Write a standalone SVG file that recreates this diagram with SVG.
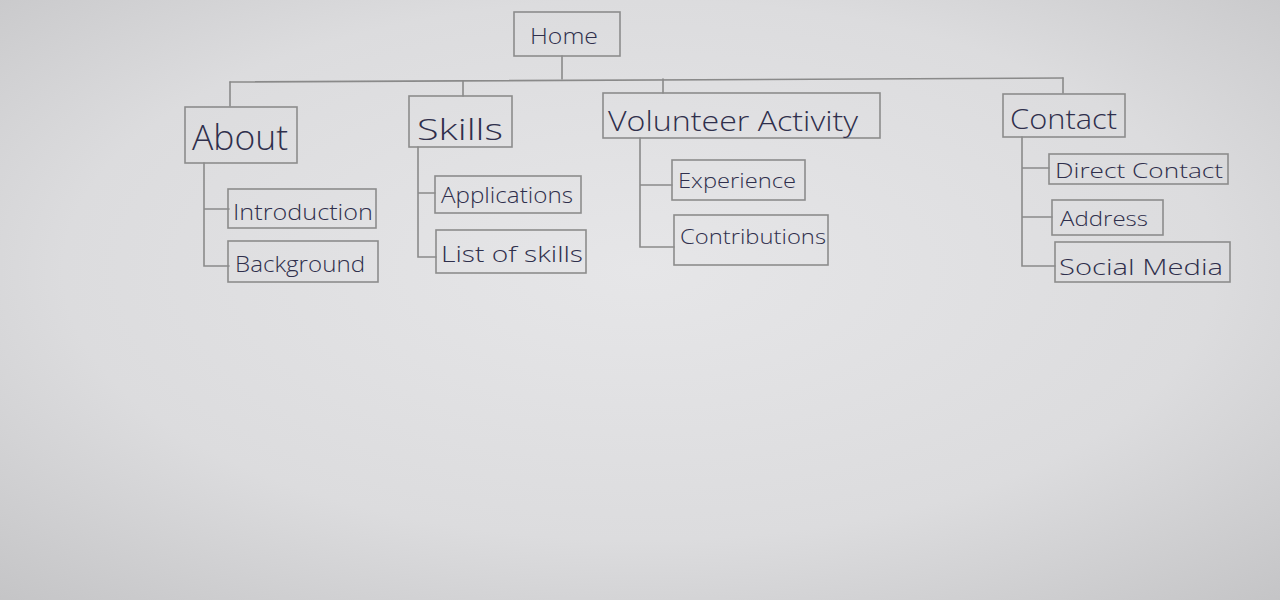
<svg xmlns="http://www.w3.org/2000/svg" width="1280" height="600" viewBox="0 0 1280 600">
  <defs>
    <radialGradient id="paper" cx="0.5" cy="0.45" r="0.75">
      <stop offset="0" stop-color="#e6e6e8"/>
      <stop offset="0.6" stop-color="#dcdcde"/>
      <stop offset="1" stop-color="#c4c4c6"/>
    </radialGradient>
    <style>
      .box { fill: none; stroke: #8c8c8c; stroke-width: 1.6; }
      .wire { fill: none; stroke: #8a8a8a; stroke-width: 1.6; stroke-linecap: round; }
      .lbl { font-family: "Open Sans", "Liberation Sans", sans-serif; font-weight: 300; fill: #2f2f4c; }
    </style>
  </defs>

  <rect width="1280" height="600" fill="url(#paper)"/>

  <!-- connectors -->
  <g id="connectors">
    <path class="wire" d="M562 56 V79"/>
    <path class="wire" d="M230 82 L1063 78"/>
    <path class="wire" d="M230 82 V106"/>
    <path class="wire" d="M463 81 V96"/>
    <path class="wire" d="M663 79 V93"/>
    <path class="wire" d="M1063 78 V93"/>
    <!-- About branch -->
    <path class="wire" d="M204 163 V266 H229 M204 209 H229"/>
    <!-- Skills branch -->
    <path class="wire" d="M418 147 V257 H436 M418 193 H435"/>
    <!-- Volunteer Activity branch -->
    <path class="wire" d="M640 138 V247 H674 M640 185 H672"/>
    <!-- Contact branch -->
    <path class="wire" d="M1022 137 V266 H1055 M1022 168 H1049 M1022 217 H1052"/>
  </g>

  <g id="home">
    <rect class="box" x="514" y="12" width="106" height="44"/>
    <text class="lbl" x="530" y="44" font-size="22" textLength="68" lengthAdjust="spacingAndGlyphs">Home</text>
  </g>

  <g id="about">
    <rect class="box" x="185" y="107" width="112" height="56"/>
    <text class="lbl" x="192" y="150" font-size="34" textLength="96" lengthAdjust="spacingAndGlyphs">About</text>
  </g>
  <g id="introduction">
    <rect class="box" x="228" y="189" width="148" height="39"/>
    <text class="lbl" x="233" y="220" font-size="22" textLength="140" lengthAdjust="spacingAndGlyphs">Introduction</text>
  </g>
  <g id="background">
    <rect class="box" x="228" y="241" width="150" height="41"/>
    <text class="lbl" x="235" y="272" font-size="22" textLength="130" lengthAdjust="spacingAndGlyphs">Background</text>
  </g>

  <g id="skills">
    <rect class="box" x="409" y="96" width="103" height="51"/>
    <text class="lbl" x="417" y="140" font-size="30" textLength="86" lengthAdjust="spacingAndGlyphs">Skills</text>
  </g>
  <g id="applications">
    <rect class="box" x="435" y="176" width="146" height="37"/>
    <text class="lbl" x="441" y="203" font-size="22" textLength="132" lengthAdjust="spacingAndGlyphs">Applications</text>
  </g>
  <g id="list-of-skills">
    <rect class="box" x="436" y="230" width="150" height="43"/>
    <text class="lbl" x="441" y="262" font-size="22" textLength="142" lengthAdjust="spacingAndGlyphs">List of skills</text>
  </g>

  <g id="volunteer-activity">
    <rect class="box" x="603" y="93" width="277" height="45"/>
    <text class="lbl" x="608" y="131" font-size="28" textLength="250" lengthAdjust="spacingAndGlyphs">Volunteer Activity</text>
  </g>
  <g id="experience">
    <rect class="box" x="672" y="160" width="133" height="40"/>
    <text class="lbl" x="678" y="188" font-size="20" textLength="118" lengthAdjust="spacingAndGlyphs">Experience</text>
  </g>
  <g id="contributions">
    <rect class="box" x="674" y="215" width="154" height="50"/>
    <text class="lbl" x="680" y="244" font-size="20" textLength="146" lengthAdjust="spacingAndGlyphs">Contributions</text>
  </g>

  <g id="contact">
    <rect class="box" x="1003" y="94" width="122" height="43"/>
    <text class="lbl" x="1010" y="129" font-size="28" textLength="107" lengthAdjust="spacingAndGlyphs">Contact</text>
  </g>
  <g id="direct-contact">
    <rect class="box" x="1049" y="154" width="179" height="30"/>
    <text class="lbl" x="1055" y="178" font-size="21" textLength="168" lengthAdjust="spacingAndGlyphs">Direct Contact</text>
  </g>
  <g id="address">
    <rect class="box" x="1052" y="200" width="111" height="35"/>
    <text class="lbl" x="1060" y="226" font-size="21" textLength="88" lengthAdjust="spacingAndGlyphs">Address</text>
  </g>
  <g id="social-media">
    <rect class="box" x="1055" y="242" width="175" height="40"/>
    <text class="lbl" x="1059" y="275" font-size="22" textLength="164" lengthAdjust="spacingAndGlyphs">Social Media</text>
  </g>
</svg>
